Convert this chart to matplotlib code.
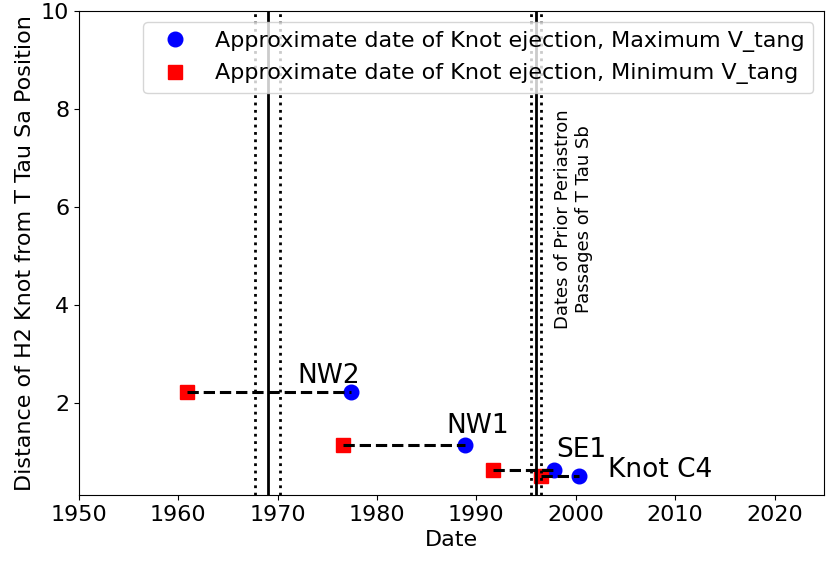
import matplotlib
matplotlib.use('Agg')
import matplotlib.pyplot as plt

# Knot data (date of ejection, distance from T Tau Sa)
knots = ["NW2", "NW1", "SE1", "Knot C4"]
date_max_vtang = [1977.4, 1988.9, 1997.8, 2000.3]
date_min_vtang = [1960.9, 1976.6, 1991.7, 1996.5]
distance = [2.23, 1.14, 0.63, 0.51]
label_x = [1972.0, 1987.0, 1998.0, 2003.2]
label_y = [2.4, 1.39, 0.9, 0.49]

# Periastron passages (center, uncertainty)
periastron = [1969.0, 1996.0]
periastron_err = [1.25, 0.5]

fig, ax = plt.subplots(figsize=(8.3, 5.63), dpi=100)
fig.subplots_adjust(left=0.095, right=0.993, top=0.980, bottom=0.121)

for d0, d1, y in zip(date_min_vtang, date_max_vtang, distance):
    ax.plot([d0, d1], [y, y], 'k--', lw=2.2, zorder=3)

ax.plot(date_max_vtang, distance, 'o', color='blue', markersize=10.5, zorder=2,
        label='Approximate date of Knot ejection, Maximum V_tang')
ax.plot(date_min_vtang, distance, 's', color='red', markersize=10.5, zorder=2,
        label='Approximate date of Knot ejection, Minimum V_tang')

for p, e in zip(periastron, periastron_err):
    ax.axvline(p, color='k', lw=2)
    ax.axvline(p - e, color='k', ls=':', lw=2)
    ax.axvline(p + e, color='k', ls=':', lw=2)

for name, x, y in zip(knots, label_x, label_y):
    ax.text(x, y, name, fontsize=19)

ax.text(1999.8, 5.75, "Dates of Prior Periastron\nPassages of T Tau Sb",
        rotation=90, ha='center', va='center', fontsize=13)

ax.set_xlim(1950, 2025)
ax.set_ylim(0.12, 10)
ax.set_xticks(range(1950, 2021, 10))
ax.set_yticks([2, 4, 6, 8, 10])
ax.tick_params(labelsize=16)
ax.set_xlabel('Date', fontsize=16)
ax.set_ylabel('Distance of H2 Knot from T Tau Sa Position', fontsize=16)
ax.legend(loc='upper right', fontsize=16)

fig.savefig('out.png')
